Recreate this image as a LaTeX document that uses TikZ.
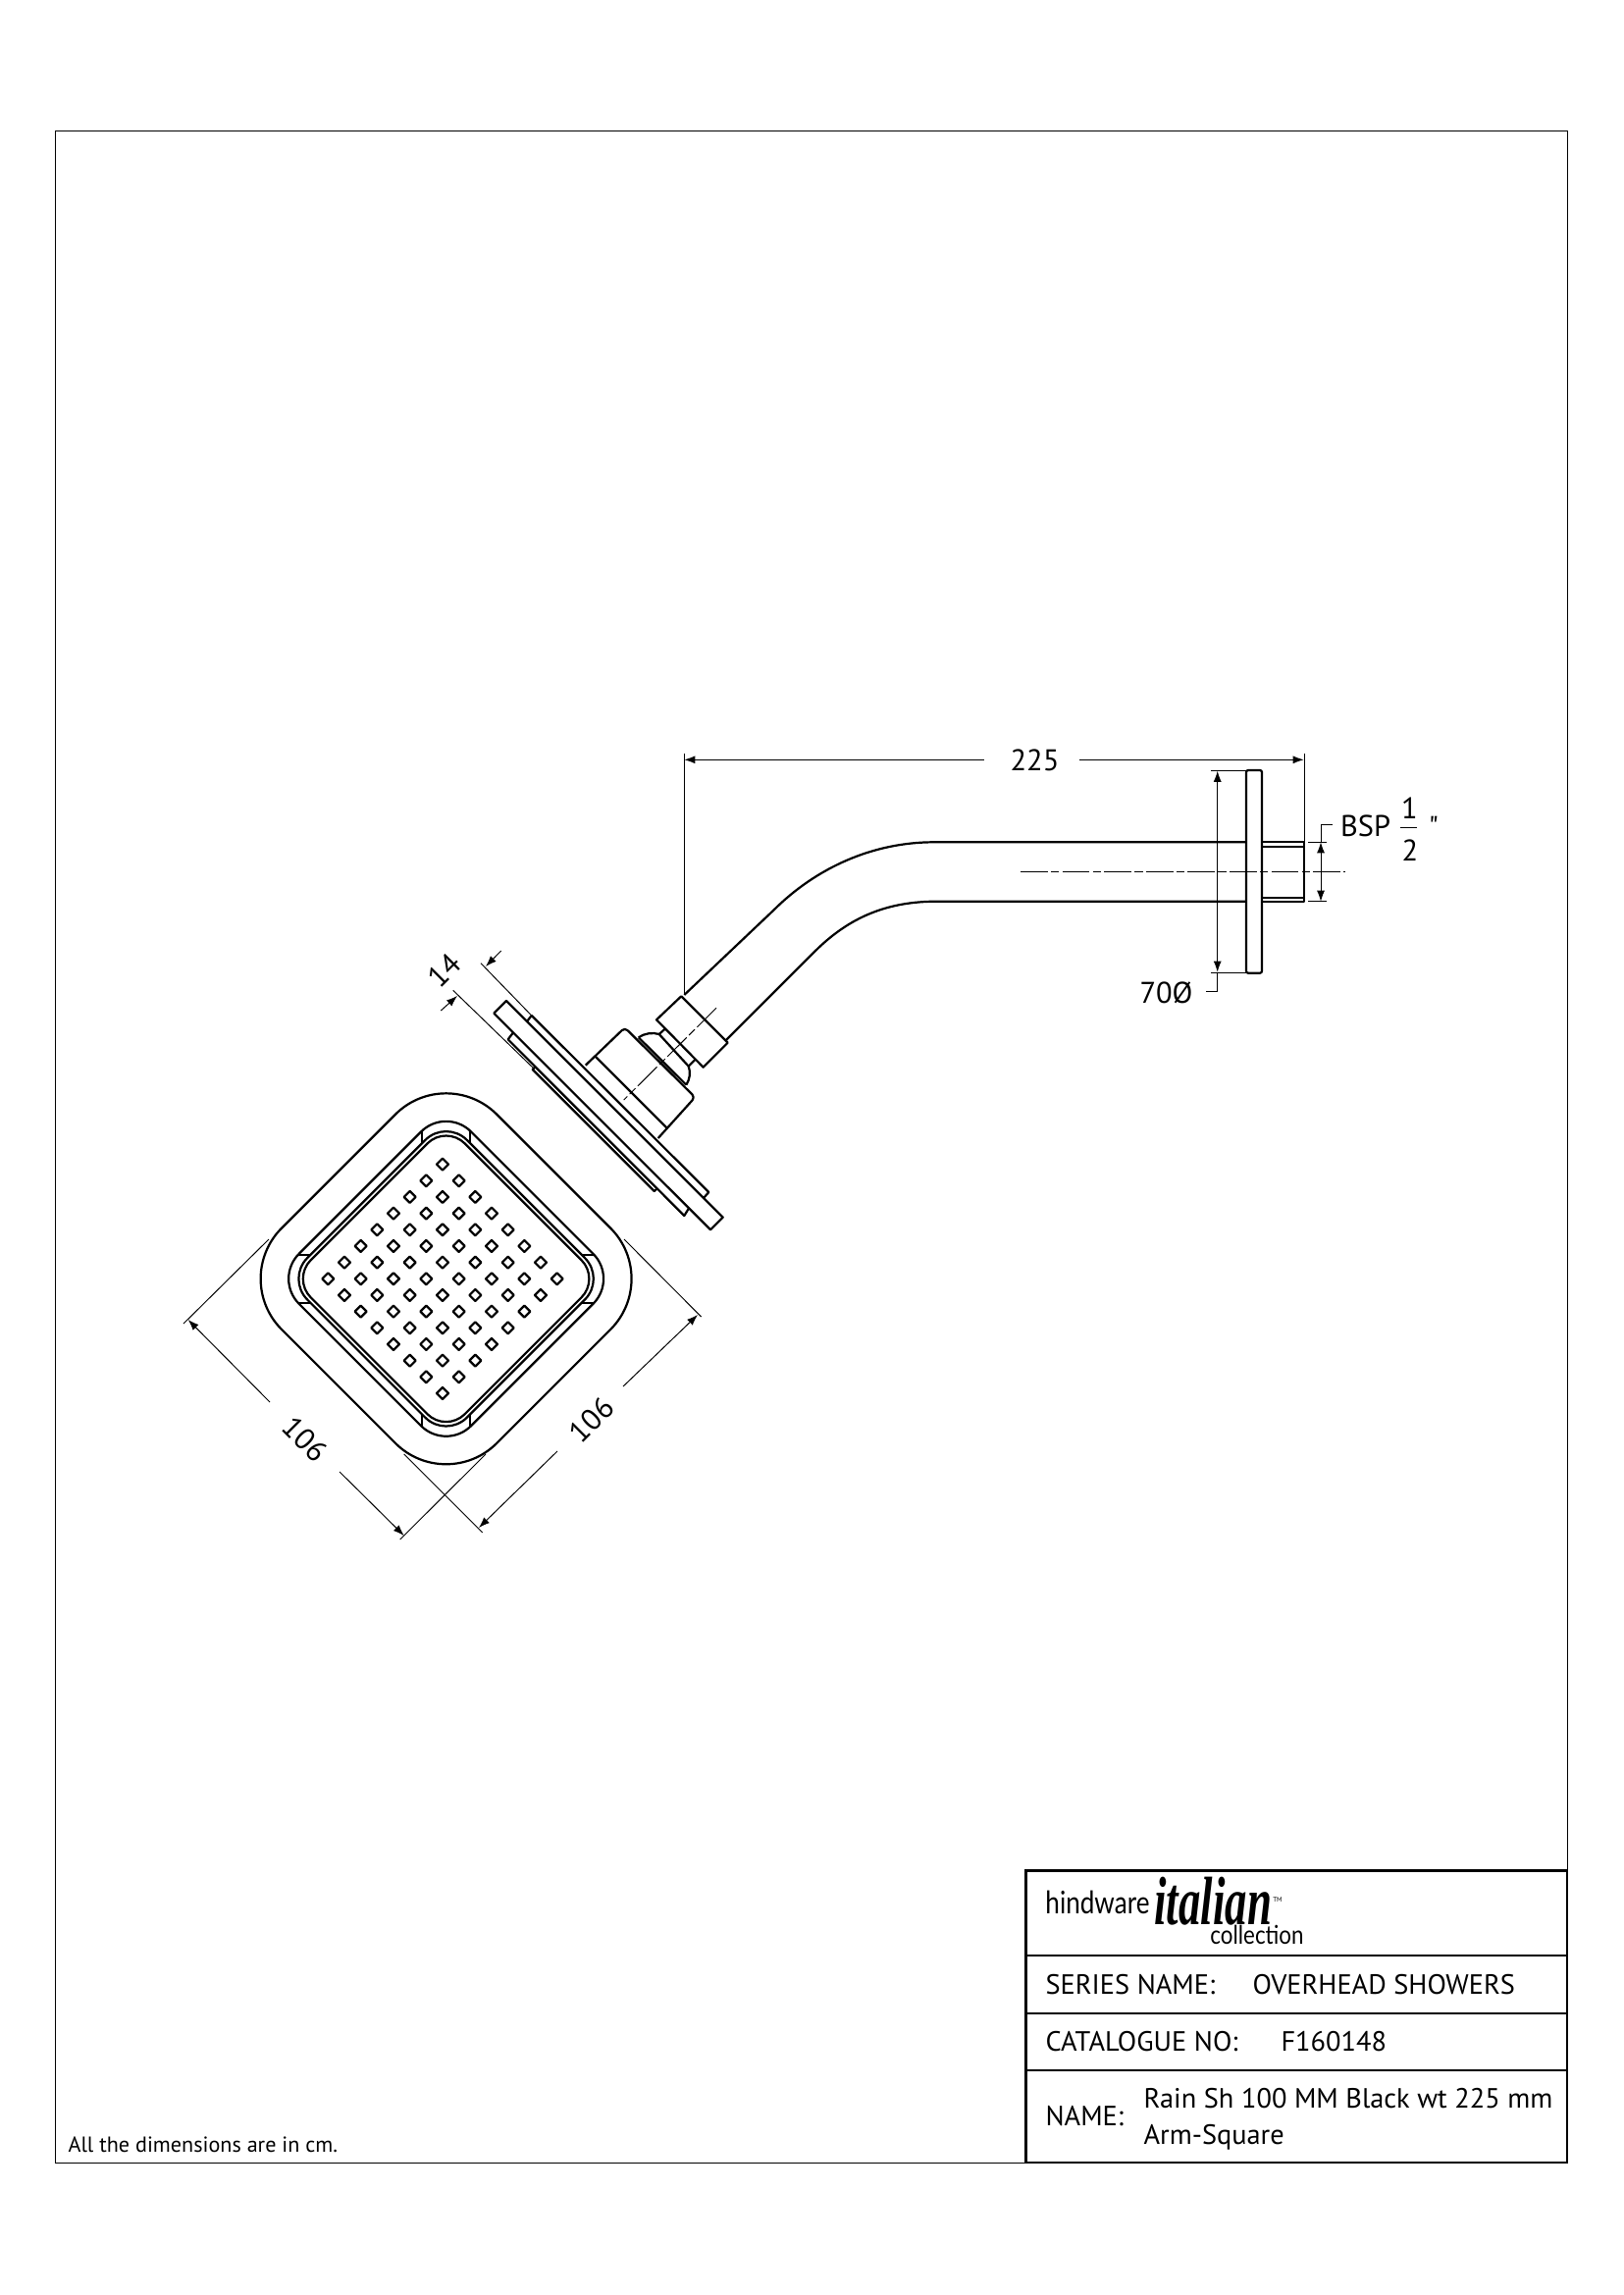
\documentclass[tikz,border=0pt]{standalone}
\usepackage{fontspec}
\setmainfont{PT Sans}
\newfontfamily\inchfont{PT Sans}
\newfontfamily\logofont{Lato}
\newfontfamily\italianfont{Liberation Serif}
\usetikzlibrary{arrows.meta}
\def\unit{0.127mm}
\tikzset{
    thickline/.style={line width=0.8pt, line join=round},
    thinline/.style={line width=0.35pt},
    dimline/.style={line width=0.35pt, {Latex[length=4pt,width=2.9pt]}-{Latex[length=4pt,width=2.9pt]}},
    tipline/.style={line width=0.35pt, -{Latex[length=4pt,width=2.9pt]}},
    axisline/.style={line width=0.35pt, dash pattern=on 10pt off 1.2pt on 3pt off 1.2pt},
    dimtext/.style={inner sep=0pt, font=\fontsize{11}{13}\selectfont},
    blocktext/.style={inner sep=0pt, anchor=base west, font=\fontsize{10.25}{12}\selectfont}
}
\begin{document}
\begin{tikzpicture}[x=\unit, y=-\unit]
    \useasboundingbox (0,0) rectangle (1654,2339);
    \draw[line width=0.5pt] (56.5,133.5) rectangle (1597.5,2204.5);
    % shower head, front view
    \begin{scope}[shift={(454.6,1303.3)}, rotate=45]
        \draw[thickline, rounded corners=73*\unit] (-155,-155) rectangle (155,155);
        \draw[thickline, rounded corners=36*\unit] (-124,-124) rectangle (124,124);
        \draw[thickline, rounded corners=30*\unit] (-115,-115) rectangle (115,115);
        \draw[thickline, rounded corners=27*\unit] (-111,-111) rectangle (111,111);
    \end{scope}
    \foreach \angle in {0,90,180,270} {
        \begin{scope}[shift={(454.6,1303.3)}, rotate=\angle]
            \draw[thickline] (-24.5,-151) -- (-24.5,-138);
            \draw[thickline] (24.5,-151) -- (24.5,-138);
        \end{scope}
    }
    \foreach \i in {0,...,7} {
        \foreach \j in {0,...,7} {
            \draw[thickline] ({451+(\i-\j)*16.67-6},{1303.3+(\i+\j-7)*16.67})
                -- ++(6,-6) -- ++(6,6) -- ++(-6,6) -- cycle;
        }
    }
    % dimensions of the head
    \draw[thinline] (187,1349) -- (274,1263);
    \draw[thinline] (407.7,1569) -- (495,1482);
    \draw[thinline] (491.7,1562) -- (411.7,1482);
    \draw[thinline] (714.6,1342) -- (636,1263);
    \draw[tipline] (275,1429) -- (191.7,1345);
    \draw[tipline] (346,1500) -- (411.7,1565);
    \draw[tipline] (568,1479) -- (488,1557);
    \draw[tipline] (635,1413) -- (711,1340);
    \node[dimtext, rotate=-45] (widthleft) at (311,1467) {106};
    \node[dimtext, rotate=45] (widthright) at (603,1447) {106};
    % plates, side view
    \draw[thickline] (516,1020) -- (503.3,1032.7) -- (724,1253.3) -- (736.7,1240.7) -- cycle;
    \draw[thickline] (541.7,1035) -- (537,1041) (541.7,1035) -- (722.3,1215) -- (717,1221);
    \draw[thickline] (523,1052.4) -- (517.7,1059.3) -- (697.3,1239) -- (702,1231.4);
    \draw[thickline] (545,1087.7) -- (542.7,1090) -- (666.7,1214) -- (669.3,1211.7);
    \draw[thinline] (545,1087.7) -- (669.3,1211.7);
    % mount and nut
    \draw[thickline, rounded corners=4*\unit] (596.7,1085.7) -- (636.7,1047.3) -- (708.3,1118.3) -- (670.7,1160);
    \draw[thickline] (606.7,1076.7) -- (680,1150);
    \draw[thickline] (650.7,1057.3) -- (699.3,1105.7);
    \draw[thickline] (650.7,1057.3) .. controls (657,1053) and (665,1052) .. (671.7,1054);
    \draw[thickline] (699.3,1105.7) .. controls (703,1100) and (704,1093) .. (701.7,1086.7);
    \draw[thickline] (671.7,1054) -- (701.7,1086.7);
    \draw[thickline] (671.7,1054) -- (677.3,1049) (701.7,1086.7) -- (708.3,1080);
    \draw[thickline] (694.3,1015.3) -- (669,1039.3) -- (716.7,1087.7) -- (741.7,1062.7) -- cycle;
    % arm
    \draw[thickline] (697.3,1014) -- (788,928) .. controls (832,884) and (890,858.3) .. (952,858.3) -- (1270,858.3);
    \draw[thickline] (740,1060) -- (830,970) .. controls (866,934) and (905,918.7) .. (955,918.7) -- (1270,918.7);
    \draw[axisline] (730,1027.3) -- (635.7,1121);
    % wall plate and thread
    \draw[thickline, rounded corners=2*\unit] (1270,785) rectangle (1286,991.7);
    \draw[thickline] (1286,858.3) -- (1329.3,858.3) -- (1329.3,918.7) -- (1286,918.7);
    \draw[thickline] (1286,862.7) -- (1329.3,862.7) (1286,915) -- (1329.3,915);
    \draw[axisline] (1040,888.7) -- (1371,888.7);
    % dimensions of the arm
    \draw[thinline] (697.3,768.3) -- (697.3,1014);
    \draw[thinline] (1329,768.3) -- (1329,858.3);
    \draw[tipline] (1002.8,774.3) -- (697.3,774.3);
    \draw[tipline] (1099.6,774.3) -- (1328.7,774.3);
    \node[dimtext] (armlength) at (1054.5,775) {225};
    \draw[thinline] (1234,785) -- (1270,785) (1234,991.7) -- (1270,991.7);
    \draw[dimline] (1240.7,785.7) -- (1240.7,990.7);
    \draw[thinline] (1240.7,990.7) -- (1240.7,1010) -- (1229,1010);
    \node[dimtext] (plateside) at (1188.5,1011.7) {70Ø};
    \draw[thinline] (1333,858.3) -- (1351.7,858.3) (1333,918.7) -- (1351.7,918.7);
    \draw[dimline] (1346,858.3) -- (1346,918.7);
    \draw[thinline] (1346,858.3) -- (1346,840.7) -- (1358,840.7);
    \node[dimtext, anchor=west] (thread) at (1365.5,842) {BSP};
    \node[dimtext] (threadtop) at (1436.5,824) {1};
    \draw[thinline] (1426.7,843.3) -- (1444.3,843.3);
    \node[dimtext] (threadbottom) at (1437,866.7) {2};
    \node[dimtext, font=\inchfont\fontsize{11}{13}\selectfont] (threadinch) at (1461,843) {"};
    % plate depth
    \draw[thinline] (490,981.7) -- (541.7,1035);
    \draw[thinline] (461.7,1009.3) -- (543.3,1088.3);
    \draw[tipline] (510.7,969) -- (495,985);
    \draw[tipline] (449.3,1030) -- (466,1015);
    \node[dimtext, rotate=45] (platedepth) at (453,989) {14};
    % title block
    \draw[line width=1pt] (1045.7,1906.7) rectangle (1597,2204);
    \draw[line width=0.8pt] (1045.7,1993.3) -- (1597,1993.3);
    \draw[line width=0.8pt] (1045.7,2051.7) -- (1597,2051.7);
    \draw[line width=0.8pt] (1045.7,2110) -- (1597,2110);
    \node[blocktext, xscale=.82, font=\logofont\fontsize{11.5}{12}\selectfont] (hindware) at (1065,1950) {hindware};
    \node[inner sep=0pt, anchor=base west, xscale=.9, yscale=1.4, font=\italianfont\bfseries\itshape\fontsize{18}{18}\selectfont] (italian) at (1176,1961) {italian};
    \node[inner sep=0pt, font=\fontsize{2.5}{3}\selectfont] (trademark) at (1302,1936) {TM};
    \node[blocktext, xscale=.85, font=\logofont\fontsize{9.5}{12}\selectfont] (collection) at (1233,1981) {collection};
    \node[blocktext] (seriesname) at (1065,2032.7) {SERIES NAME:};
    \node[blocktext] (seriesvalue) at (1276,2032.7) {OVERHEAD SHOWERS};
    \node[blocktext] (cataloguename) at (1065,2090.7) {CATALOGUE NO:};
    \node[blocktext] (cataloguevalue) at (1305,2090.7) {F160148};
    \node[blocktext] (namename) at (1065,2166.7) {NAME:};
    \node[blocktext] (namefirst) at (1165,2148) {Rain Sh 100 MM Black wt 225 mm};
    \node[blocktext] (namesecond) at (1165,2185) {Arm-Square};
    \node[blocktext, font=\fontsize{8}{10}\selectfont] (footnote) at (69,2193) {All the dimensions are in cm.};
\end{tikzpicture}
\end{document}
